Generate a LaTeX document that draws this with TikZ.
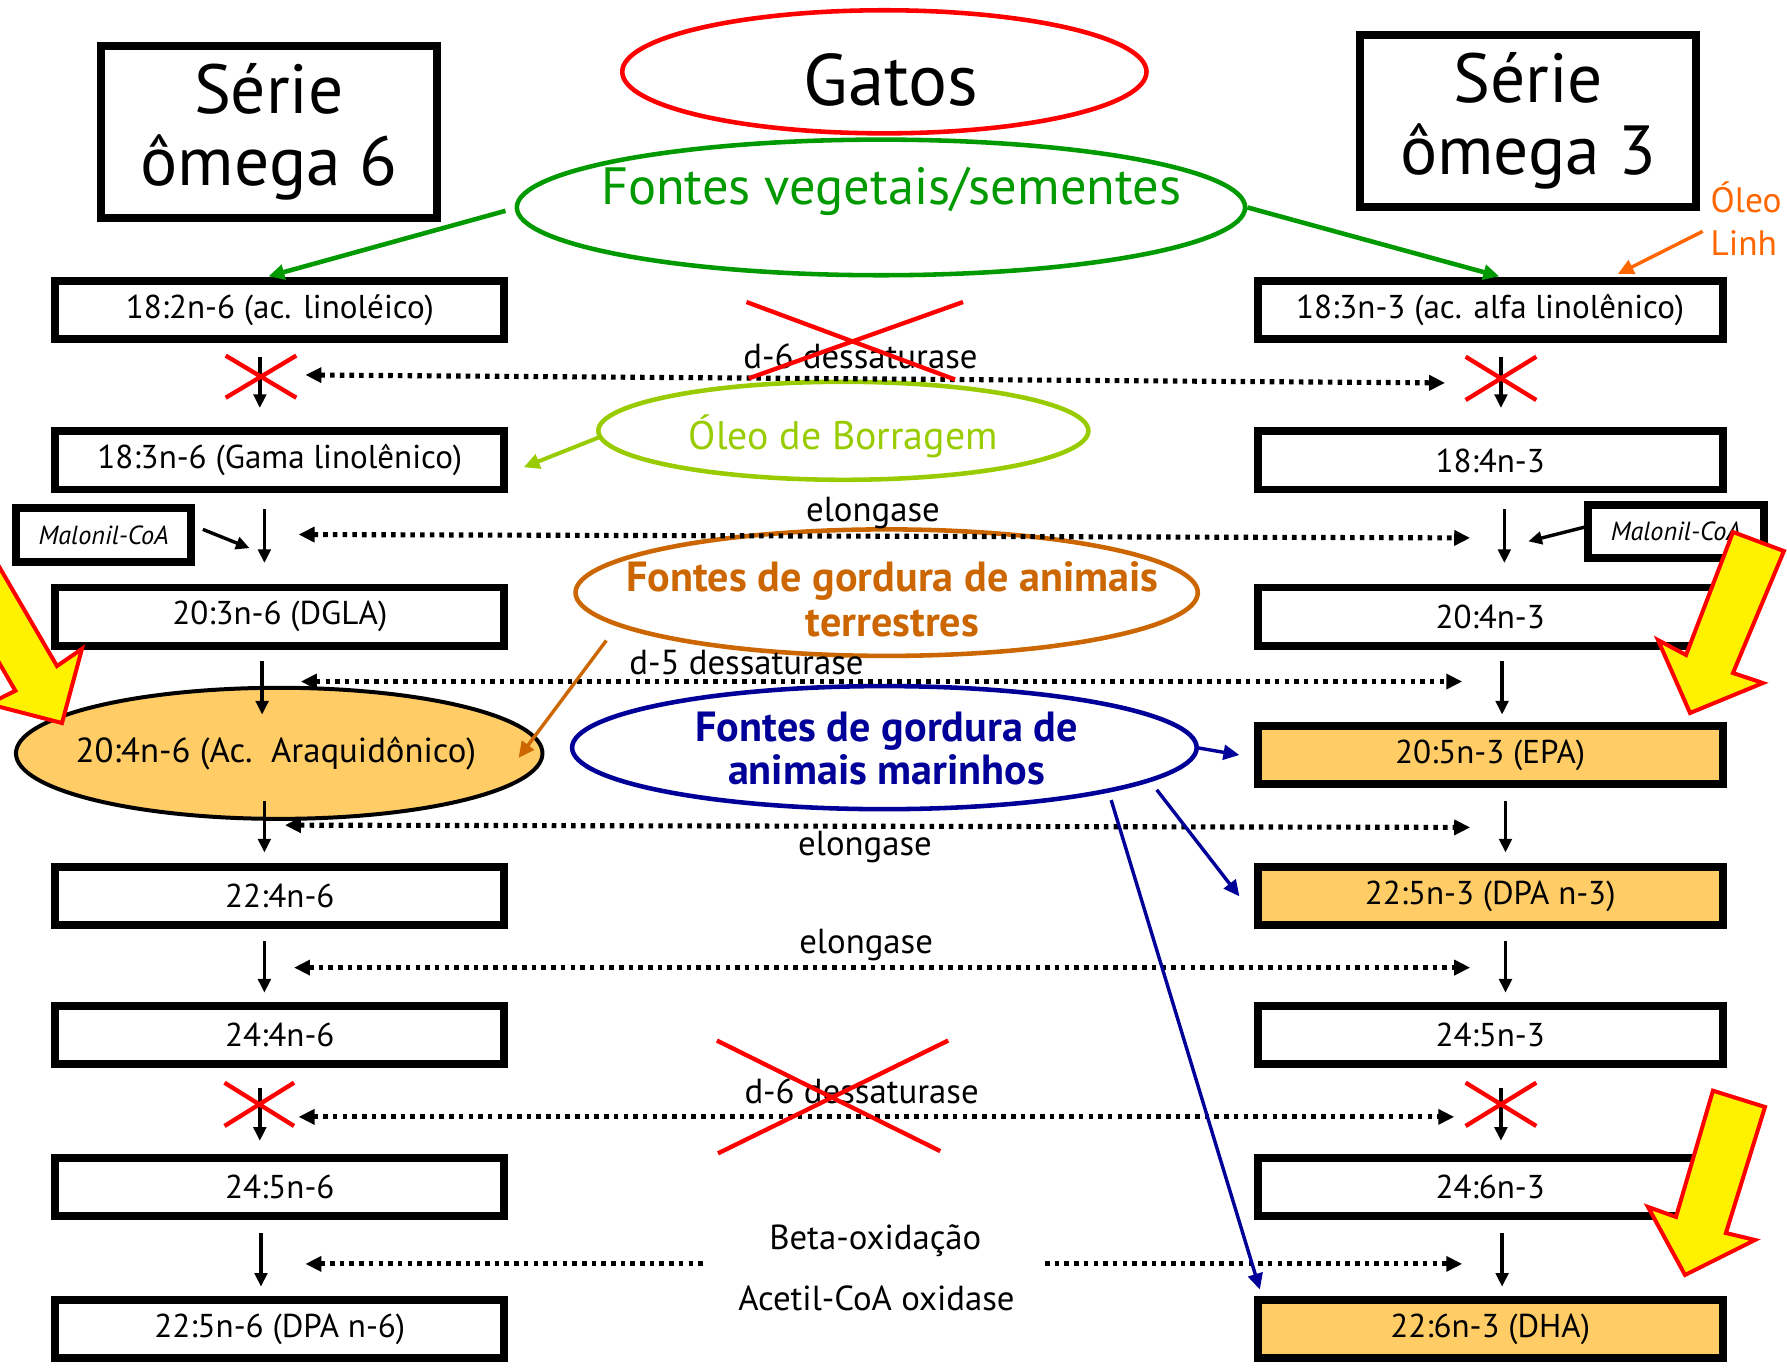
\documentclass[tikz,border=0pt]{standalone}
\usepackage{fontspec}
\setmainfont{PT Sans}
\usetikzlibrary{shapes.geometric,arrows.meta,calc}

\definecolor{vgreen}{RGB}{0,153,0}
\definecolor{lgreen}{RGB}{153,204,0}
\definecolor{brownish}{RGB}{204,102,0}
\definecolor{navy}{RGB}{0,0,153}
\definecolor{linorange}{RGB}{255,102,0}
\definecolor{acidfill}{RGB}{255,204,102}

\begin{document}
\begin{tikzpicture}[x=1pt,y=-1pt,
  every node/.style={inner sep=0pt, outer sep=0pt},
  acid/.style={draw, line width=7pt, rectangle, minimum height=51pt,
    font=\fontsize{29}{32}\selectfont},
  lcol/.style={acid, minimum width=394pt},
  rcol/.style={acid, minimum width=408pt},
  hot/.style={fill=acidfill},
  title/.style={draw, line width=7pt, minimum width=295pt, minimum height=151pt,
    align=center, font=\fontsize{61}{63}\selectfont},
  src/.style={ellipse, line width=4pt},
  enzlbl/.style={font=\fontsize{30.5}{33}\selectfont},
  malbox/.style={draw, line width=7pt, rectangle, font=\itshape\fontsize{23}{25}\selectfont},
  flow/.style={line width=3pt, -{Triangle[length=12pt,width=11pt]}},
  feed/.style={line width=4pt, -{Triangle[length=14pt,width=13pt]}},
  enzboth/.style={line width=4.5pt, dash pattern=on 4pt off 4.5pt,
    {Triangle[length=14pt,width=13pt]}-{Triangle[length=14pt,width=13pt]}},
  enzleft/.style={line width=4.5pt, dash pattern=on 4pt off 4.5pt,
    {Triangle[length=14pt,width=13pt]}-},
  enzright/.style={line width=4.5pt, dash pattern=on 4pt off 4.5pt,
    -{Triangle[length=14pt,width=13pt]}},
  blocked/.style={red, line width=3.8pt},
  bigarrow/.style={draw=red, fill=yellow, line width=3.5pt, line join=miter},
]
\useasboundingbox (0,0) rectangle (1568,1200);
\clip (0,0) rectangle (1568,1200);

% ---------- headers ----------
\node[title] (om6) at (236,116) {Série\\ômega 6};
\node[title] (om3) at (1341,106) {Série\\ômega 3};
\node[src, draw=red, minimum width=460pt, minimum height=108pt] (gatos) at (776,63) {};
\node[font=\fontsize{64}{64}\selectfont] (gatostxt) at (782,70) {Gatos};

% ---------- sources ----------
\node[src, draw=vgreen, minimum width=639pt, minimum height=119pt] (veg) at (773,182) {};
\node[text=vgreen, font=\fontsize{46}{50}\selectfont] (vegtxt) at (782,168) {Fontes vegetais/sementes};

\node[src, draw=lgreen, minimum width=430pt, minimum height=86pt] (bor) at (740,378) {};
\node[text=lgreen, font=\fontsize{35}{38}\selectfont] (bortxt) at (740,383) {Óleo de Borragem};

\node[src, draw=brownish, minimum width=546pt, minimum height=111pt] (terr) at (778,520) {};
\node[text=brownish, font=\bfseries\fontsize{37}{39}\selectfont, align=center] (terrtxt) at (783,526)
  {Fontes de gordura de animais\\terrestres};

\node[src, draw=navy, minimum width=548pt, minimum height=108pt] (mar) at (776,656) {};
\node[text=navy, font=\bfseries\fontsize{37}{38}\selectfont, align=center] (martxt) at (778,657)
  {Fontes de gordura de\\animais marinhos};

\node[text=linorange, font=\fontsize{31}{38}\selectfont, align=left, anchor=west] (linho) at (1501,192)
  {Óleo\\Linh};

% ---------- omega 6 column ----------
\node[lcol] (l1) at (245.5,272) {18:2n-6 (ac. linoléico)};
\node[lcol] (l2) at (245.5,404) {18:3n-6 (Gama linolênico)};
\node[lcol] (l3) at (245.5,541) {20:3n-6 (DGLA)};
\node[ellipse, draw, line width=3.5pt, fill=acidfill, minimum width=462pt, minimum height=115pt]
  (l4) at (245,661) {};
\node[font=\fontsize{30.5}{33}\selectfont] (l4txt) at (242,661) {20:4n-6 (Ac.\ \ Araquidônico)};
\node[lcol] (l5) at (245.5,786.5) {22:4n-6};
\node[lcol] (l6) at (245.5,908.5) {24:4n-6};
\node[lcol] (l7) at (245.5,1041.5) {24:5n-6};
\node[lcol] (l8) at (245.5,1166) {22:5n-6 (DPA n-6)};

% ---------- omega 3 column ----------
\node[rcol] (r1) at (1307.5,272) {18:3n-3 (ac. alfa linolênico)};
\node[rcol] (r2) at (1307.5,404) {18:4n-3};
\node[rcol] (r3) at (1307.5,541) {20:4n-3};
\node[rcol, hot] (r4) at (1307.5,662.5) {20:5n-3 (EPA)};
\node[rcol, hot] (r5) at (1307.5,786.5) {22:5n-3 (DPA n-3)};
\node[rcol] (r6) at (1307.5,908.5) {24:5n-3};
\node[rcol] (r7) at (1307.5,1041.5) {24:6n-3};
\node[rcol, hot] (r8) at (1307.5,1166) {22:6n-3 (DHA)};

% ---------- malonyl-CoA donors ----------
\node[malbox, minimum width=154pt, minimum height=48pt] (mall) at (91,469.5) {Malonil-CoA};
\node[malbox, minimum width=154pt, minimum height=46pt] (malr) at (1470.5,466.5) {Malonil-CoA};

% ---------- step arrows, omega 6 ----------
\coordinate (la1) at (228,313);  \coordinate (lb1) at (228,358);
\coordinate (la2) at (232,447);  \coordinate (lb2) at (232,494);
\coordinate (la3) at (230,580);  \coordinate (lb3) at (230,627);
\coordinate (la4) at (232,703);  \coordinate (lb4) at (232,748);
\coordinate (la5) at (232,826);  \coordinate (lb5) at (232,871);
\coordinate (la6) at (228,955);  \coordinate (lb6) at (228,1001);
\coordinate (la7) at (229,1082); \coordinate (lb7) at (229,1129);
\foreach \i in {1,...,7} { \draw[flow] (la\i) -- (lb\i); }

% ---------- step arrows, omega 3 ----------
\coordinate (ra1) at (1317,313);  \coordinate (rb1) at (1317,358);
\coordinate (ra2) at (1320,447);  \coordinate (rb2) at (1320,494);
\coordinate (ra3) at (1318,580);  \coordinate (rb3) at (1318,627);
\coordinate (ra4) at (1321,703);  \coordinate (rb4) at (1321,748);
\coordinate (ra5) at (1321,826);  \coordinate (rb5) at (1321,871);
\coordinate (ra6) at (1317,955);  \coordinate (rb6) at (1317,1001);
\coordinate (ra7) at (1318,1082); \coordinate (rb7) at (1318,1129);
\foreach \i in {1,...,7} { \draw[flow] (ra\i) -- (rb\i); }

% malonyl-CoA feeding the elongation
\draw[flow] ($(mall.east)+(10,-5)$) -- (219,481);
\draw[flow] ($(malr.west)+(-3,-4)$) -- (1341,475);

% ---------- enzyme lines ----------
\coordinate (e1l) at (268,329);  \coordinate (e1r) at (1268,336);
\coordinate (e2l) at (262,469);  \coordinate (e2r) at (1290,472);
\coordinate (e3l) at (264,598);  \coordinate (e3r) at (1283,598);
\coordinate (e4l) at (250,724);  \coordinate (e4r) at (1290,726);
\coordinate (e5l) at (258,849);  \coordinate (e5r) at (1290,849);
\coordinate (e6l) at (262,980);  \coordinate (e6r) at (1276,980);
\coordinate (e7l) at (268,1109); \coordinate (e7m) at (617,1109);
\coordinate (e7n) at (917,1109); \coordinate (e7r) at (1283,1109);
\foreach \i in {1,...,6} { \draw[enzboth] (e\i l) -- (e\i r); }
\draw[enzleft] (e7l) -- (e7m);
\draw[enzright] (e7n) -- (e7r);

\node[enzlbl] (t1) at (755,313) {d-6 dessaturase};
\node[enzlbl] (t2) at (766,450) {elongase};
\node[enzlbl] (t3) at (655,581) {d-5 dessaturase};
\node[enzlbl] (t4) at (759,743) {elongase};
\node[enzlbl] (t5) at (760,829) {elongase};
\node[enzlbl] (t6) at (756,958) {d-6 dessaturase};
\node[enzlbl] (t7) at (768,1089) {Beta-oxidação};
\node[enzlbl] (t8) at (769,1139) {Acetil-CoA oxidase};

% ---------- blocked steps ----------
\draw[blocked] (655,265) -- (838,333) (845,265) -- (657,332);
\draw[blocked] (629,913) -- (825,1010) (832,913) -- (630,1012);
\draw[blocked] (198,312) -- (260,349) (260,312) -- (198,349);
\draw[blocked] (1286,313) -- (1348,351) (1348,313) -- (1286,351);
\draw[blocked] (197,950) -- (258,988) (258,950) -- (197,988);
\draw[blocked] (1286,950) -- (1348,988) (1348,950) -- (1286,988);

% ---------- dietary sources ----------
\draw[feed, vgreen] ($(veg.west)+(-10,3)$) -- ($(l1.north)+(-10,-4)$);
\draw[feed, vgreen] ($(veg.east)+(2,0)$) -- ($(r1.north)+(8,-4)$);
\draw[feed, linorange, line width=3pt] ($(linho.west)+(-7,11)$) -- ($(r1.north)+(112,-6)$);
\draw[feed, lgreen, line width=3.5pt] ($(bor.west)+(0,6)$) -- ($(l2.east)+(17,6)$);
\coordinate (terrfoot) at (532,562);
\draw[feed, brownish, line width=3pt] (terrfoot) -- ($(l4.east)+(-21,4)$);
\coordinate (marfoot1) at (1015,693);
\coordinate (marfoot2) at (975,702);
\draw[feed, navy, line width=3pt] (mar.east) -- ($(r4.west)+(-16,0)$);
\draw[feed, navy, line width=3pt] (marfoot1) -- ($(r5.west)+(-16,0)$);
\draw[feed, navy, line width=3pt] (marfoot2) -- ($(r8.north west)+(2,-9)$);

% ---------- highlight arrows ----------
\draw[bigarrow] (-36.9,435.2) -- (50,584.4) -- (71.9,569.4) -- (54.4,634.4)
  -- (-10,617.7) -- (13.5,606.1) -- (-73.7,456.3) -- cycle;
\draw[bigarrow] (1520.6,466.8) -- (1565.3,483.5) -- (1520.6,590.5) -- (1546.9,599.3)
  -- (1482.9,625.6) -- (1454.8,561.6) -- (1479.4,574.7) -- cycle;
\draw[bigarrow] (1503,957) -- (1548.7,971.3) -- (1514.4,1081.9) -- (1539.9,1088)
  -- (1478.5,1118.7) -- (1446,1059) -- (1470.6,1067.8) -- cycle;
\end{tikzpicture}
\end{document}
